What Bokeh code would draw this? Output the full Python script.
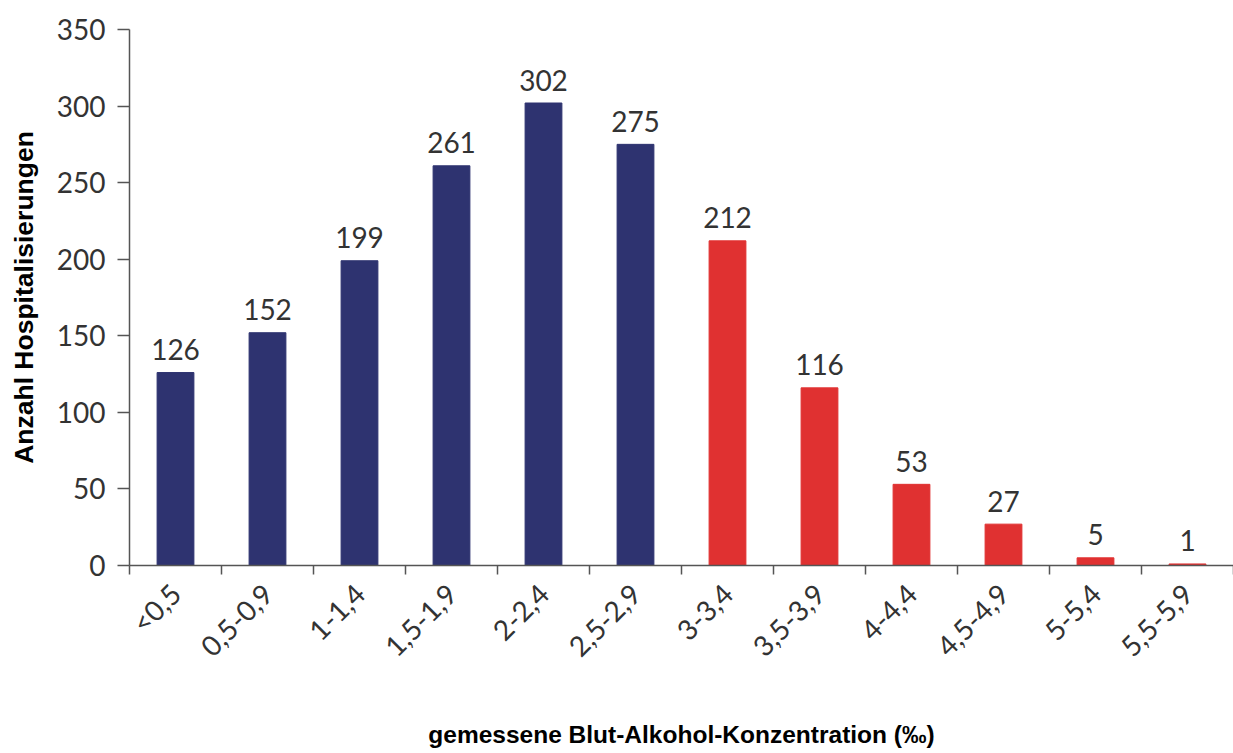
import math
from bokeh.plotting import figure
from bokeh.models import ColumnDataSource, Range1d, FixedTicker
from bokeh.core.properties import value
from bokeh.embed import file_html
from bokeh.resources import INLINE

# Blood alcohol concentration classes (per mille) and hospitalisation counts
categories = ["<0,5", "0,5-0,9", "1-1,4", "1,5-1,9", "2-2,4", "2,5-2,9",
              "3-3,4", "3,5-3,9", "4-4,4", "4,5-4,9", "5-5,4", "5,5-5,9"]
counts = [126, 152, 199, 261, 302, 275, 212, 116, 53, 27, 5, 1]
y_ticks = [0, 50, 100, 150, 200, 250, 300, 350]

NAVY = "#2E3370"
RED = "#E03131"
bar_colors = [NAVY if i < 6 else RED for i in range(len(categories))]

idx = list(range(len(categories)))
src = ColumnDataSource(dict(x=idx, top=counts, color=bar_colors,
                            label=[str(c) for c in counts]))

p = figure(width=1233, height=753, output_backend="svg", toolbar_location=None,
           x_range=Range1d(-0.5, len(categories) - 0.5), y_range=Range1d(0, 350),
           min_border_left=129, min_border_right=0, min_border_top=29,
           min_border_bottom=188)
p.outline_line_color = None
p.xgrid.grid_line_color = None
p.ygrid.grid_line_color = None
p.background_fill_color = "white"
p.border_fill_color = "white"

p.vbar(x="x", top="top", width=0.4, color="color", source=src)

# value labels above each bar
p.text(x="x", y="top", text="label", source=src, text_align="center",
       text_baseline="alphabetic", y_offset=-23, text_font=value("Lato"),
       text_font_size="28px", text_color="#333333")

AX = "#555555"
LABEL_FONT = "Lato"

# y axis
yax = p.yaxis[0]
yax.ticker = FixedTicker(ticks=y_ticks)
yax.major_tick_out = 12
yax.major_tick_in = 0
yax.minor_tick_line_color = None
yax.axis_line_color = AX
yax.axis_line_width = 1.5
yax.major_tick_line_color = AX
yax.major_tick_line_width = 1.5
yax.major_label_text_font = LABEL_FONT
yax.major_label_text_font_size = "28px"
yax.major_label_text_color = "#333333"
yax.major_label_standoff = 12
yax.axis_label = "Anzahl Hospitalisierungen"
yax.axis_label_text_font = "Liberation Sans"
yax.axis_label_text_font_style = "bold"
yax.axis_label_text_font_size = "26.5px"
yax.axis_label_text_color = "#000000"
yax.axis_label_standoff = 15

# x axis: category names at bar centres, tick marks between the classes
xax = p.xaxis[0]
xax.ticker = FixedTicker(ticks=idx, minor_ticks=[i - 0.5 for i in range(len(categories) + 1)])
xax.major_label_overrides = {i: c for i, c in enumerate(categories)}
xax.major_tick_line_color = None
xax.minor_tick_line_color = AX
xax.minor_tick_line_width = 1.5
xax.minor_tick_out = 9
xax.minor_tick_in = 0
xax.axis_line_color = AX
xax.axis_line_width = 1.5
xax.major_label_orientation = math.pi / 4
xax.major_label_text_font = LABEL_FONT
xax.major_label_text_font_size = "28px"
xax.major_label_text_color = "#333333"
xax.major_label_standoff = 14
xax.axis_label = "gemessene Blut-Alkohol-Konzentration (\u2030)"
xax.axis_label_text_font = "Liberation Sans"
xax.axis_label_text_font_style = "bold"
xax.axis_label_text_font_size = "24.5px"
xax.axis_label_text_color = "#000000"
xax.axis_label_standoff = 43

open("out.html", "w").write(file_html(p, INLINE))
